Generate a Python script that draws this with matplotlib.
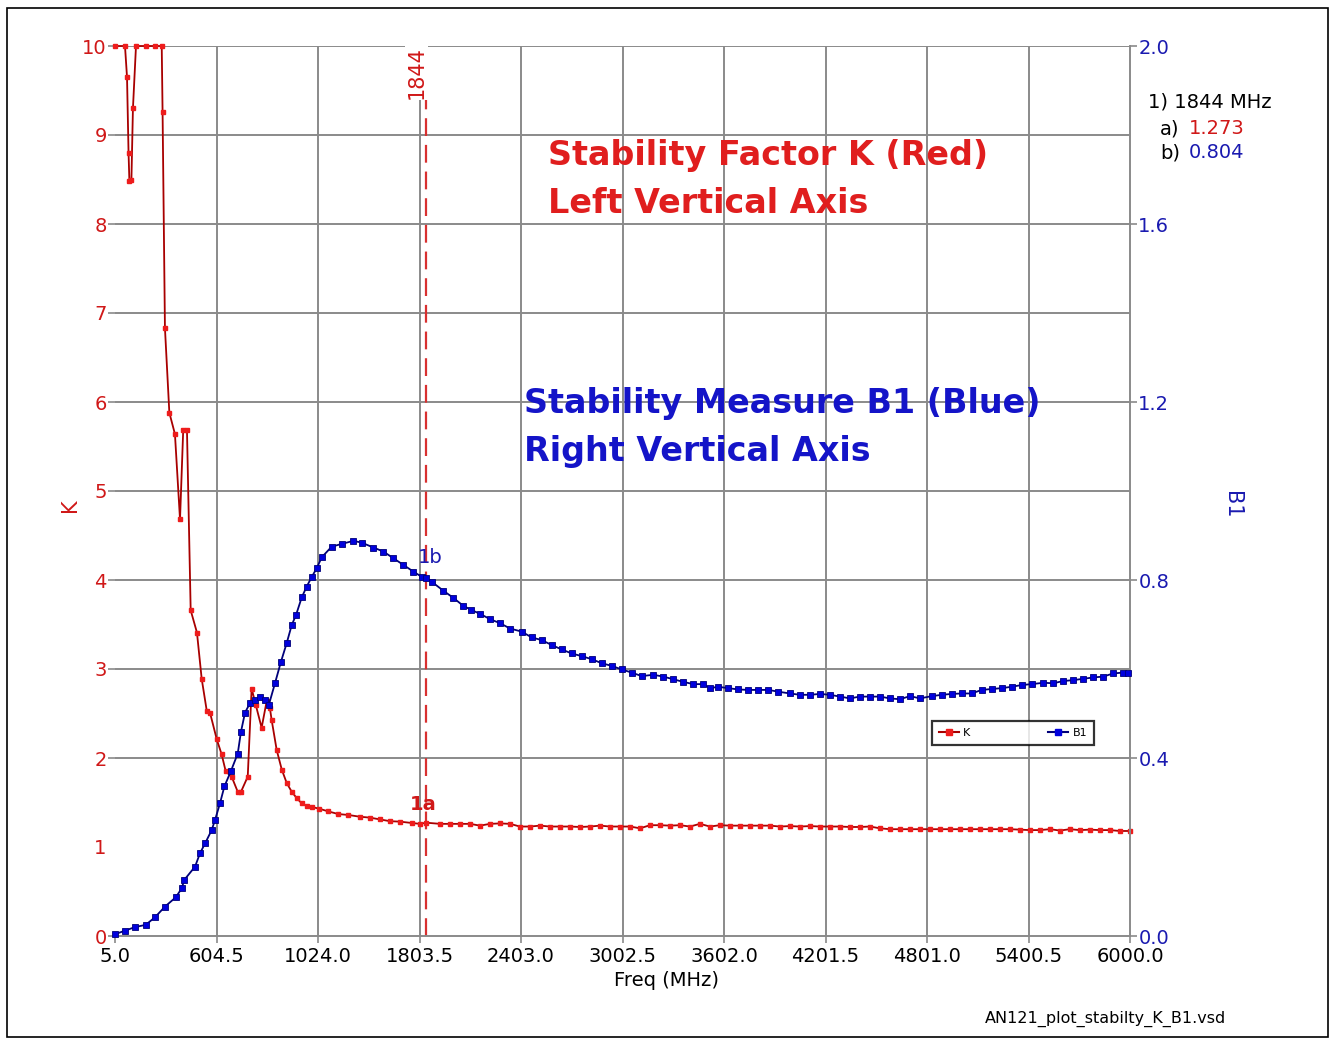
import matplotlib
matplotlib.use('Agg')
import matplotlib.pyplot as plt
from matplotlib.lines import Line2D
from matplotlib.patches import Rectangle

plt.rcParams['font.family'] = ['DejaVu Sans']

# ---------------- data ----------------
freq_k = [5, 64, 76, 85, 90, 102, 111, 129, 188, 241, 281, 286, 300, 326, 359, 389,
          408, 430, 452, 489, 517, 547, 566, 606, 635, 659, 694, 730, 749, 789, 812,
          836, 871, 901, 920, 930, 960, 990, 1019, 1049, 1078, 1108, 1137, 1167, 1212,
          1265, 1324, 1383, 1452, 1511, 1570, 1629, 1688, 1757, 1806, 1844,
          1925, 1984, 2043, 2102, 2161, 2220, 2279, 2338, 2397, 2456, 2515, 2574, 2633,
          2692, 2752, 2811, 2870, 2929, 2988, 3047, 3106, 3165, 3224, 3283, 3342, 3401,
          3460, 3519, 3578, 3637, 3696, 3755, 3814, 3873, 3932, 3991, 4050, 4110, 4169,
          4228, 4287, 4346, 4405, 4464, 4523, 4582, 4641, 4700, 4759, 4818, 4877, 4936,
          4995, 5054, 5113, 5172, 5232, 5291, 5350, 5409, 5468, 5527, 5586, 5645, 5704,
          5763, 5822, 5881, 5940, 6000]
k_vals = [10, 10, 9.65, 8.8, 8.48, 8.5, 9.3, 10, 10, 10, 10, 9.26, 6.83, 5.88, 5.64, 4.68,
          5.69, 5.69, 3.66, 3.41, 2.89, 2.53, 2.51, 2.21, 2.04, 1.85, 1.79, 1.62, 1.62, 1.79, 2.78,
          2.60, 2.34, 2.64, 2.56, 2.43, 2.09, 1.87, 1.72, 1.62, 1.55, 1.49, 1.46, 1.45, 1.43,
          1.40, 1.37, 1.36, 1.34, 1.33, 1.31, 1.29, 1.285, 1.27, 1.26, 1.273,
          1.26, 1.26, 1.26, 1.26, 1.24, 1.26, 1.265, 1.26, 1.23, 1.23, 1.24, 1.23, 1.23,
          1.23, 1.225, 1.23, 1.24, 1.23, 1.23, 1.23, 1.21, 1.245, 1.245, 1.24, 1.245, 1.23,
          1.26, 1.23, 1.245, 1.24, 1.24, 1.24, 1.24, 1.24, 1.23, 1.235, 1.23, 1.235, 1.23,
          1.23, 1.23, 1.225, 1.225, 1.23, 1.21, 1.20, 1.20, 1.20, 1.20, 1.20, 1.20, 1.20,
          1.20, 1.20, 1.20, 1.20, 1.20, 1.20, 1.195, 1.19, 1.19, 1.20, 1.185, 1.20, 1.19,
          1.195, 1.19, 1.19, 1.18, 1.18]

freq_b = [5, 64, 123, 186, 241, 300, 364, 399, 414, 478, 507, 537, 576, 596, 625, 651,
          690, 730, 749, 773, 802, 832, 861, 891, 914, 950, 985, 1019, 1049, 1074, 1108,
          1137, 1167, 1196, 1226, 1285, 1344, 1413, 1462, 1531, 1590, 1649, 1708, 1767,
          1817, 1844, 1876, 1944, 2003, 2062, 2108, 2161, 2220, 2279, 2338, 2407, 2466,
          2525, 2584, 2643, 2702, 2761, 2821, 2880, 2939, 2998, 3057, 3116, 3184, 3243,
          3302, 3362, 3421, 3480, 3519, 3568, 3627, 3686, 3746, 3805, 3864, 3923, 3992,
          4051, 4110, 4169, 4228, 4287, 4346, 4405, 4464, 4523, 4582, 4641, 4700, 4760,
          4829, 4888, 4947, 5006, 5065, 5124, 5183, 5242, 5301, 5360, 5419, 5488, 5547,
          5606, 5665, 5724, 5783, 5842, 5901, 5960, 5990]
b1_vals = [0.004, 0.012, 0.020, 0.025, 0.042, 0.066, 0.087, 0.107, 0.126, 0.156, 0.186,
           0.208, 0.238, 0.261, 0.298, 0.336, 0.371, 0.410, 0.459, 0.502, 0.523, 0.530,
           0.536, 0.530, 0.520, 0.568, 0.616, 0.658, 0.699, 0.721, 0.761, 0.785, 0.807,
           0.826, 0.851, 0.875, 0.881, 0.888, 0.884, 0.873, 0.864, 0.849, 0.834, 0.819,
           0.807, 0.804, 0.796, 0.776, 0.760, 0.742, 0.733, 0.724, 0.712, 0.703, 0.691,
           0.684, 0.671, 0.665, 0.654, 0.644, 0.635, 0.629, 0.622, 0.613, 0.607, 0.599,
           0.592, 0.584, 0.587, 0.583, 0.577, 0.571, 0.566, 0.566, 0.557, 0.560, 0.557,
           0.554, 0.553, 0.553, 0.553, 0.549, 0.545, 0.542, 0.542, 0.544, 0.542, 0.538,
           0.534, 0.538, 0.538, 0.538, 0.534, 0.532, 0.539, 0.534, 0.539, 0.542, 0.544,
           0.545, 0.545, 0.553, 0.555, 0.557, 0.560, 0.564, 0.566, 0.569, 0.568, 0.573,
           0.575, 0.578, 0.581, 0.583, 0.590, 0.592, 0.590]

x_ticks = [5.0, 604.5, 1204.0, 1803.5, 2403.0, 3002.5, 3602.0, 4201.5, 4801.0, 5400.5, 6000.0]
x_tick_labels = ['5.0', '604.5', '1024.0', '1803.5', '2403.0', '3002.5', '3602.0',
                 '4201.5', '4801.0', '5400.5', '6000.0']
k_ticks = [0, 1, 2, 3, 4, 5, 6, 7, 8, 9, 10]
k_grid = [2, 3, 4, 5, 6, 7, 8, 9, 10]
b_ticks = [0.0, 0.4, 0.8, 1.2, 1.6, 2.0]
marker_freq = 1844
marker_k = 1.273
marker_b = 0.804

# ---------------- styling ----------------
W, H = 1331, 1039
RED_LINE = '#a80000'
RED_MK = '#ee1c1c'
RED_TXT = '#d01818'
BLUE_LINE = '#00007a'
BLUE_MK = '#0000dd'
BLUE_TXT = '#1a1ab0'
GRID = '#8a8a8a'

fig = plt.figure(figsize=(W / 100, H / 100), dpi=100)
fig.patch.set_facecolor('white')

def fx(x):
    return x / W

def fy(y):
    return 1 - y / H

L, R, T, B = 115, 1130, 46, 936
ax = fig.add_axes([fx(L), fy(B), (R - L) / W, (B - T) / H])
ax.set_xlim(5, 6000)
ax.set_ylim(0, 10)
ax2 = ax.twinx()
ax2.set_ylim(0, 2)

for s in ax.spines.values():
    s.set_visible(False)
for s in ax2.spines.values():
    s.set_visible(False)
ax.spines['bottom'].set_visible(True)
ax.spines['bottom'].set_color(GRID)
ax.spines['bottom'].set_linewidth(1.4)
ax2.spines['right'].set_visible(True)
ax2.spines['right'].set_color(GRID)
ax2.spines['right'].set_linewidth(1.4)

# grid
for g in k_grid:
    ax.axhline(g, color=GRID, lw=1.4, zorder=0.5)
for xt in x_ticks[1:-1]:
    ax.axvline(xt, color=GRID, lw=1.4, zorder=0.5)

# ticks
ax.set_xticks(x_ticks)
ax.set_xticklabels(x_tick_labels)
ax.tick_params(axis='x', length=5, width=1.2, color=GRID, labelsize=14, pad=3, labelcolor='black')
ax.set_yticks(k_ticks)
ax.tick_params(axis='y', length=5, width=1.2, color=GRID, labelsize=14, pad=1, labelcolor=RED_TXT)
ax.yaxis.get_major_ticks()[1].tick1line.set_visible(False)
ax2.set_yticks(b_ticks)
ax2.set_yticklabels(['%.1f' % v for v in b_ticks])
ax2.tick_params(axis='y', length=5, width=1.2, color=GRID, labelsize=14, pad=1, labelcolor=BLUE_TXT)

# data
ax.plot(freq_k, k_vals, color=RED_LINE, lw=1.3, marker='s', ms=3.0,
        mfc=RED_MK, mec=RED_MK, clip_on=False, zorder=3)
ax2.plot(freq_b, b1_vals, color=BLUE_LINE, lw=1.3, marker='s', ms=3.8,
         mfc=BLUE_MK, mec=BLUE_LINE, mew=0.6, clip_on=False, zorder=3)

# marker line
ax.axvline(marker_freq, color='#d83030', lw=1.6, ls=(0, (8, 4)), zorder=2)
ax.text(marker_freq, 10, str(marker_freq), rotation=90, color=RED_TXT, fontsize=15,
        ha='right', va='top', transform=ax.transData,
        bbox=dict(facecolor='white', edgecolor='none', pad=1))
ax2.text(marker_freq - 50, marker_b + 0.025, '1b', color=BLUE_TXT, fontsize=14,
         ha='left', va='bottom')
ax.text(marker_freq - 95, marker_k + 0.1, '1a', color=RED_TXT, fontsize=14,
        fontweight='bold', ha='left', va='bottom')

# axis labels
fig.text(fx(667), fy(980), 'Freq (MHz)', color='black', fontsize=14, ha='center', va='center')
fig.text(fx(70), fy(505), 'K', color=RED_TXT, fontsize=15, rotation=90, ha='center', va='center')
fig.text(fx(1232), fy(505), 'B1', color=BLUE_TXT, fontsize=15, rotation=-90, ha='center', va='center')

# big annotations
BIG = 24
fig.text(fx(548), fy(155), 'Stability Factor K (Red)', color='#e01e1e', fontsize=BIG,
         fontweight='bold', ha='left', va='center')
fig.text(fx(548), fy(203), 'Left Vertical Axis', color='#e01e1e', fontsize=BIG,
         fontweight='bold', ha='left', va='center')
fig.text(fx(524), fy(403), 'Stability Measure B1 (Blue)', color='#1414c8', fontsize=BIG,
         fontweight='bold', ha='left', va='center')
fig.text(fx(524), fy(452), 'Right Vertical Axis', color='#1414c8', fontsize=BIG,
         fontweight='bold', ha='left', va='center')

# marker readout
fig.text(fx(1148), fy(102), '1) %d MHz' % marker_freq, color='black', fontsize=14,
         ha='left', va='center')
fig.text(fx(1160), fy(129), 'a)', color='black', fontsize=14, ha='left', va='center')
fig.text(fx(1189), fy(129), '%.3f' % marker_k, color=RED_TXT, fontsize=14, ha='left', va='center')
fig.text(fx(1160), fy(153), 'b)', color='black', fontsize=14, ha='left', va='center')
fig.text(fx(1189), fy(153), '%.3f' % marker_b, color=BLUE_TXT, fontsize=14, ha='left', va='center')

# legend
handles = [Line2D([], [], color=RED_LINE, lw=1.5, marker='s', ms=4, mfc=RED_MK, mec=RED_MK),
           Line2D([], [], color=BLUE_LINE, lw=1.5, marker='s', ms=4, mfc=BLUE_MK, mec=BLUE_MK)]
leg = ax.legend(handles, ['K', 'B1'], ncol=2, fontsize=8, loc='center left',
                bbox_to_anchor=(fx(932), fy(733)), bbox_transform=fig.transFigure,
                frameon=True, fancybox=False, edgecolor='black', borderpad=0.6,
                handlelength=1.8, handletextpad=0.4, columnspacing=7.0, borderaxespad=0)
leg.get_frame().set_linewidth(1.6)
leg.set_zorder(5)

# footer
fig.text(fx(985), fy(1019), 'AN121_plot_stabilty_K_B1.vsd', color='black', fontsize=11.5,
         ha='left', va='center')

# outer border
fig.patches.append(Rectangle((fx(7), fy(1037)), fx(1328) - fx(7), fy(8) - fy(1037),
                             transform=fig.transFigure, fill=False, edgecolor='black',
                             lw=1.2, zorder=10))

fig.savefig('out.png', dpi=100)
